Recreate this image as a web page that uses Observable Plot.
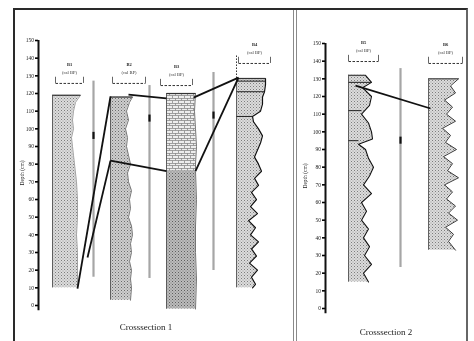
<!DOCTYPE html>
<html>
<head>
<meta charset="utf-8">
<script src="https://cdn.jsdelivr.net/npm/d3@7"></script>
<script src="https://cdn.jsdelivr.net/npm/@observablehq/plot@0.6"></script>
<style>
html,body{margin:0;padding:0;background:#fff;}
#wrap{position:relative;width:474px;height:341px;overflow:hidden;background:#fff;}
#frame{position:absolute;left:13px;top:8px;width:451px;height:345px;border-top:2px solid #2a2a2a;border-left:2px solid #2a2a2a;border-right:2px solid #666;}
#divider{position:absolute;left:293px;top:10px;width:2px;height:340px;border-left:1px solid #8a8a8a;border-right:1px solid #8a8a8a;}
.cap{position:absolute;font-family:"Liberation Serif",serif;font-size:9px;color:#222;transform:translate(-50%,-50%);white-space:nowrap;will-change:transform;}
#p1,#p2{position:absolute;top:8px;height:333px;will-change:transform;}
#p1{left:13px;width:281px;} #p2{left:297px;width:170px;}
</style>
</head>
<body>
<div id="wrap">
<svg width="1" height="1" style="position:absolute;left:0;top:0">
<defs>
<pattern id="stip" width="3" height="3" patternUnits="userSpaceOnUse"><rect width="3" height="3" fill="#dcdcdc"/><rect x="0" y="0" width="1" height="1" fill="#7c7c7c"/><rect x="1.5" y="1.5" width="1" height="1" fill="#9a9a9a"/></pattern>
<pattern id="stipB" width="3" height="3" patternUnits="userSpaceOnUse"><rect width="3" height="3" fill="#cecece"/><rect x="0" y="0" width="1" height="1" fill="#6a6a6a"/><rect x="1.5" y="1.5" width="1" height="1" fill="#8a8a8a"/></pattern>
<pattern id="dark" width="3" height="3" patternUnits="userSpaceOnUse"><rect width="3" height="3" fill="#bcbcbc"/><rect x="0" y="0" width="1" height="1" fill="#5e5e5e"/><rect x="1.5" y="1.5" width="1" height="1" fill="#7a7a7a"/></pattern>
<pattern id="grid" width="6" height="5" patternUnits="userSpaceOnUse"><rect width="6" height="5" fill="#eeeeee"/><path d="M0 0.5H6M0.5 0V2.5M3.5 2.5V5M0 2.5H6" stroke="#8a8a8a" stroke-width="0.8" fill="none"/></pattern>
</defs>
</svg>
<div id="frame"></div>
<div id="divider"></div>
<div id="p1"></div>
<div id="p2"></div>
<div class="cap" style="left:146px;top:327px">Crosssection 1</div>
<div class="cap" style="left:386px;top:332px">Crosssection 2</div>
</div>
<script>
// ---------- shared ----------
const depthTicks = [0,10,20,30,40,50,60,70,80,90,100,110,120,130,140,150];
const depthLabel = "Depth (cm)";

// ---------- Crosssection 1 : cores (distance along section in arbitrary units, depth in cm) ----------
const coreNames1 = ["B1","B2","B3","B4"];
const coreSub = "(cal BP)";
const coreLeft1 = [14, 72, 128, 198];
const hdrLeft1 = [17, 74, 122, 200];
const hdrRight1 = [45, 107, 154, 232];
const headerDepth1 = [125.7, 125.7, 124.5, 137];
const coreTop1 = [119, 118, 120, 128.5];

const aDepth = [119,115,110,105,100,95,90,85,80,75,70,60,50,40,30,20,10];
const aEdge  = [42,37,35,34,35,33,34,35,36,37,38,39,39,38,39,39,39];

const bDepth = [118,115,110,105,100,95,90,85,80,75,70,65,60,55,50,45,40,35,30,25,20,15,10,3];
const bEdge  = [94,91,88,90,87,89,88,90,92,89,90,93,91,92,90,93,94,92,93,91,93,92,93,92];

const cUpperDepth = [120,110,100,90,80,76];
const cUpperEdge  = [157,156,157,158,157,157];
const cLowerDepth = [76,60,45,30,15,-2];
const cLowerEdge  = [157,158,157,157,158,157];

const dDepth = [128.5,125,121,118,114,110,107,104,100,96,92,88,84,80,76,72,68,64,60,56,52,48,44,40,36,32,28,24,20,16,12,10];
const dEdge  = [227,227,226,224,224,222,214,215,220,224,222,219,216,220,223,216,220,213,218,212,219,210,217,212,220,213,218,211,219,213,217,214];
const dBeds  = [127, 121, 107];

// grey reference lines between cores
const greyX1 = [55, 111, 175];
const greyTop1 = [127, 124.5, 131.9];
const greyBottom1 = [16, 15.3, 19.8];
const greyMark1 = [96, 105.8, 107.5];

// correlation lines
const corrFromX1 = [39, 49, 72, 157, 90, 155];
const corrFromD1 = [9.6, 27.2, 82, 76, 119.4, 117.7];
const corrToX1   = [72, 72, 128, 200, 128, 200];
const corrToD1   = [118.3, 82, 76, 129, 117.2, 129];

// ---------- Crosssection 2 ----------
const coreNames2 = ["B5","B6"];
const coreLeft2 = [23, 103];
const hdrLeft2 = [23, 103];
const hdrRight2 = [53, 137];
const headerDepth2 = [139.8, 138.7];
const coreTop2 = [132, 130];

const eDepth = [132,128,125,120,115,110,105,100,96,93,90,85,80,75,70,65,60,55,50,45,40,35,30,25,20,15];
const eEdge  = [40,46,37,46,44,36,43,46,47,33,40,43,48,44,38,46,36,41,36,43,38,44,39,46,38,43];
const eBeds  = [128, 112, 95];

const fDepth = [130,126,122,118,114,110,106,102,98,94,90,86,82,78,74,70,66,62,58,54,50,46,42,38,33];
const fEdge  = [133,125,130,119,127,121,130,117,125,120,131,118,127,122,133,119,127,121,130,123,132,120,128,123,130];

const greyX2 = [75];
const greyTop2 = [135.8];
const greyBottom2 = [23.2];
const greyMark2 = [95];

const corrFromX2 = [30];
const corrFromD2 = [126.2];
const corrToX2 = [105];
const corrToD2 = [113.2];

// ---------- helpers ----------
const prof = (depths, edges) => depths.map((d, i) => ({depth: d, edge: edges[i]}));
const links = (fx, fd, tx, td) => fx.map((x, i) => ({x1: x, y1: fd[i], x2: tx[i], y2: td[i]}));
const font = "Liberation Serif, serif";

function headerMarks(names, left, right, hdr) {
  const h = names.map((n, i) => ({name: n, left: left[i], right: right[i], c: (left[i] + right[i]) / 2, d: hdr[i]}));
  const ends = h.flatMap(o => [{x: o.left, d: o.d}, {x: o.right, d: o.d}]);
  return [
    Plot.link(h, {x1: "left", x2: "right", y1: "d", y2: "d", stroke: "#333", strokeWidth: 1, strokeDasharray: "2.5,1.5"}),
    Plot.ruleX(ends, {x: "x", y1: "d", y2: o => o.d + 3.5, stroke: "#555", strokeWidth: 0.9}),
    Plot.text(h, {x: "c", y: "d", text: () => coreSub, dy: -11, fontSize: 4.5, fill: "#333", fontFamily: font}),
    Plot.text(h, {x: "c", y: "d", text: "name", dy: -19, fontSize: 4.5, fontWeight: "bold", fill: "#222", fontFamily: font})
  ];
}

function greyMarks(xs, tops, bottoms, marks) {
  const g = xs.map((x, i) => ({x, top: tops[i], bottom: bottoms[i], m: marks[i]}));
  return [
    Plot.ruleX(g, {x: "x", y1: "bottom", y2: "top", stroke: "#a6a6a6", strokeWidth: 2.2}),
    Plot.ruleX(g, {x: "x", y1: o => o.m - 2, y2: o => o.m + 2, stroke: "#111", strokeWidth: 2.2})
  ];
}

function axisMarks(offset) {
  return [
    Plot.axisY({ticks: depthTicks, tickSize: 3, tickPadding: 1.5, fontSize: 5.5, strokeWidth: 1.6, fill: "#222",
      label: depthLabel, labelAnchor: "center", labelOffset: offset, labelArrow: "none", fontFamily: font}),
    Plot.ruleX([0], {y1: -3, y2: 150, stroke: "#111", strokeWidth: 2})
  ];
}

const plotStyle = {background: "transparent", overflow: "visible", fontFamily: font};

// ---------- panel 1 ----------
const A = prof(aDepth, aEdge), B = prof(bDepth, bEdge), D = prof(dDepth, dEdge);
const CU = prof(cUpperDepth, cUpperEdge), CL = prof(cLowerDepth, cLowerEdge);

const p1 = Plot.plot({
  width: 281, height: 333,
  marginLeft: 25, marginRight: 0, marginTop: 32, marginBottom: 36,
  x: {domain: [0, 256], axis: null},
  y: {domain: [0, 150], axis: null},
  style: plotStyle,
  marks: [
    Plot.areaX(A, {y: "depth", x1: () => coreLeft1[0], x2: "edge", fill: "url(#stip)"}),
    Plot.areaX(B, {y: "depth", x1: () => coreLeft1[1], x2: "edge", fill: "url(#stipB)"}),
    Plot.areaX(CU, {y: "depth", x1: () => coreLeft1[2], x2: "edge", fill: "url(#grid)"}),
    Plot.areaX(CL, {y: "depth", x1: () => coreLeft1[2], x2: "edge", fill: "url(#dark)"}),
    Plot.areaX(D, {y: "depth", x1: () => coreLeft1[3], x2: "edge", fill: "url(#stip)"}),
    Plot.line(A, {x: "edge", y: "depth", stroke: "#8a8a8a", strokeWidth: 0.8}),
    Plot.line(B, {x: "edge", y: "depth", stroke: "#666", strokeWidth: 0.9}),
    Plot.line(CU.concat(CL), {x: "edge", y: "depth", stroke: "#666", strokeWidth: 0.9}),
    Plot.line(D, {x: "edge", y: "depth", stroke: "#111", strokeWidth: 1.2}),
    Plot.ruleX([0,1,2,3], {x: i => coreLeft1[i], y1: i => [aDepth, bDepth, cLowerDepth, dDepth][i].at(-1), y2: i => coreTop1[i], stroke: "#555", strokeWidth: 0.9}),
    Plot.ruleX([3], {x: i => coreLeft1[i], y1: i => coreTop1[i], y2: i => headerDepth1[i] + 5, stroke: "#333", strokeWidth: 1, strokeDasharray: "1.5,1.5"}),
    Plot.link([0,1,2,3], {x1: i => coreLeft1[i], x2: i => [aEdge, bEdge, cUpperEdge, dEdge][i][0], y1: i => coreTop1[i], y2: i => coreTop1[i], stroke: "#333", strokeWidth: 1.2}),
    Plot.link(dBeds, {x1: () => coreLeft1[3], x2: d => dEdge[dDepth.findIndex(v => v <= d)], y1: d => d, y2: d => d, stroke: "#222", strokeWidth: 1}),
    ...headerMarks(coreNames1, hdrLeft1, hdrRight1, headerDepth1),
    ...greyMarks(greyX1, greyTop1, greyBottom1, greyMark1),
    Plot.link(links(corrFromX1, corrFromD1, corrToX1, corrToD1), {x1: "x1", y1: "y1", x2: "x2", y2: "y2", stroke: "#111", strokeWidth: 1.8}),
    ...axisMarks(18)
  ]
});
document.getElementById("p1").appendChild(p1);

// ---------- panel 2 ----------
const E = prof(eDepth, eEdge), F = prof(fDepth, fEdge);
const p2 = Plot.plot({
  width: 170, height: 333,
  marginLeft: 28, marginRight: 0, marginTop: 35, marginBottom: 33,
  x: {domain: [0, 142], axis: null},
  y: {domain: [0, 150], axis: null},
  style: plotStyle,
  marks: [
    Plot.areaX(E, {y: "depth", x1: () => coreLeft2[0], x2: "edge", fill: "url(#stip)"}),
    Plot.areaX(F, {y: "depth", x1: () => coreLeft2[1], x2: "edge", fill: "url(#stip)"}),
    Plot.line(E, {x: "edge", y: "depth", stroke: "#111", strokeWidth: 1.1}),
    Plot.line(F, {x: "edge", y: "depth", stroke: "#222", strokeWidth: 0.9}),
    Plot.ruleX([0,1], {x: i => coreLeft2[i], y1: i => [eDepth, fDepth][i].at(-1), y2: i => coreTop2[i], stroke: "#555", strokeWidth: 0.9}),
    Plot.link([0,1], {x1: i => coreLeft2[i], x2: i => [eEdge, fEdge][i][0], y1: i => coreTop2[i], y2: i => coreTop2[i], stroke: "#333", strokeWidth: 1.1}),
    Plot.link(eBeds, {x1: () => coreLeft2[0], x2: d => eEdge[eDepth.findIndex(v => v <= d)], y1: d => d, y2: d => d, stroke: "#222", strokeWidth: 1}),
    ...headerMarks(coreNames2, hdrLeft2, hdrRight2, headerDepth2),
    ...greyMarks(greyX2, greyTop2, greyBottom2, greyMark2),
    Plot.link(links(corrFromX2, corrFromD2, corrToX2, corrToD2), {x1: "x1", y1: "y1", x2: "x2", y2: "y2", stroke: "#111", strokeWidth: 1.8}),
    ...axisMarks(22)
  ]
});
document.getElementById("p2").appendChild(p2);
</script>
</body>
</html>
